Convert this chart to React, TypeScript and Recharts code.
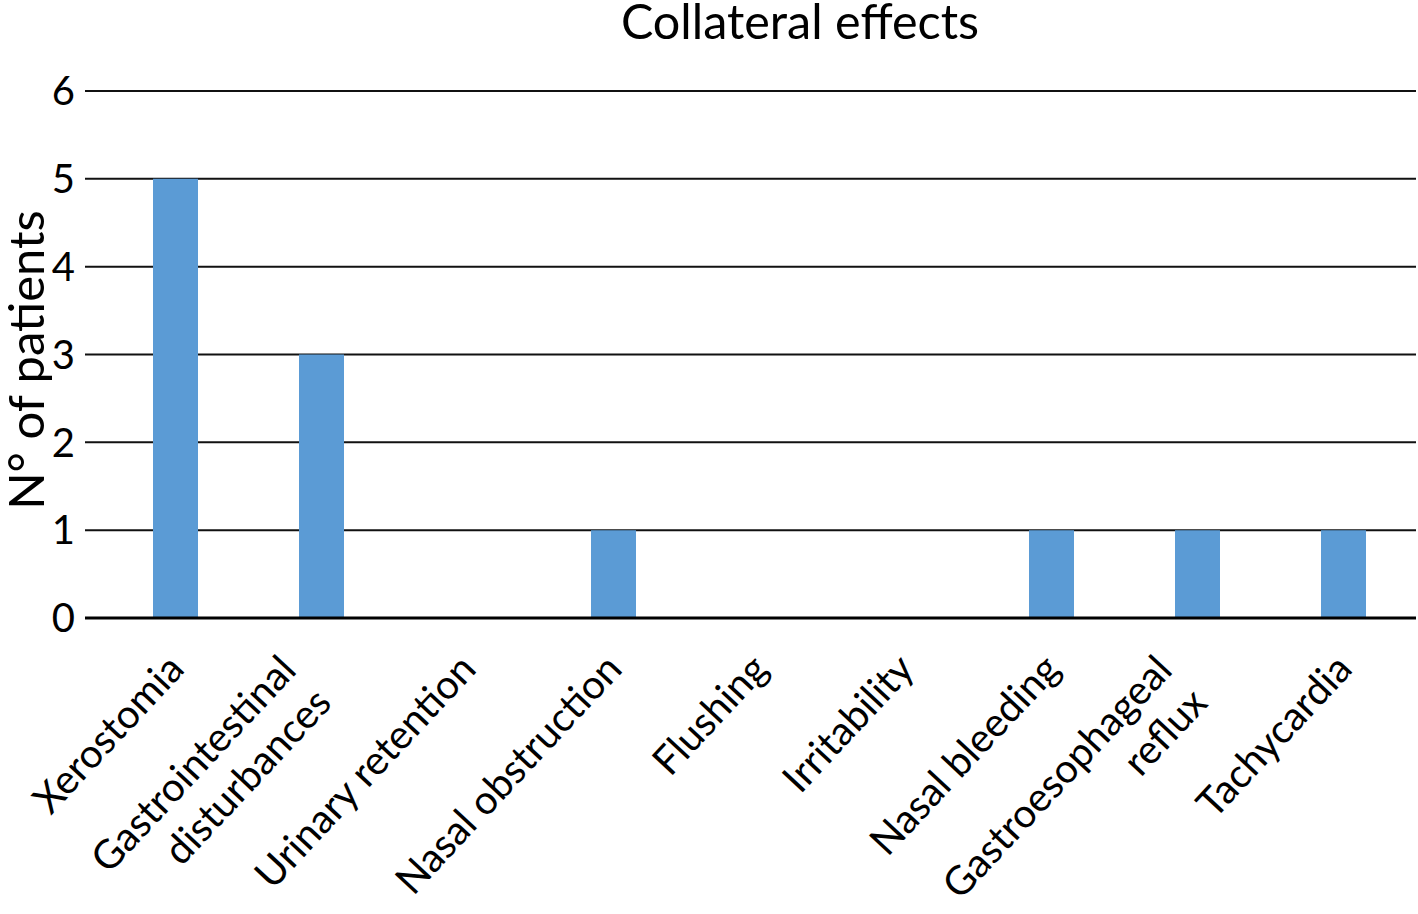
import { BarChart, Bar, XAxis, YAxis, CartesianGrid } from "recharts";

const categories = [
  "Xerostomia",
  "Gastrointestinal\ndisturbances",
  "Urinary retention",
  "Nasal obstruction",
  "Flushing",
  "Irritability",
  "Nasal bleeding",
  "Gastroesophageal\nreflux",
  "Tachycardia",
];
const patients = [5, 3, 0, 1, 0, 0, 1, 1, 1];
const yTicks = [0, 1, 2, 3, 4, 5, 6];

const data = categories.map((name, i) => ({ name, value: patients[i] }));

const FONT = "Lato, 'Open Sans', sans-serif";
const LABEL_SIZE = 40;
const LINE_H = 48;

// rotated category labels, lines right-aligned, block centred on the tick
function SlantedTick(props: any) {
  const { x, y, payload } = props;
  const lines = String(payload.value).split("\n");
  const n = lines.length;
  const dx = -((n - 1) * LINE_H) / 2 - 31;
  return (
    <g transform={`translate(${x},${y}) rotate(-47)`}>
      {lines.map((line, i) => (
        <text
          key={i}
          x={dx}
          y={(i - (n - 1) / 2) * LINE_H + 44}
          textAnchor="end"
          fontFamily={FONT}
          fontSize={LABEL_SIZE}
          fill="#000"
        >
          {line}
        </text>
      ))}
    </g>
  );
}

export default function App() {
  return (
    <div style={{ position: "absolute", left: 0, top: 0, width: 1418, height: 914, background: "#fff" }}>
      <div
        style={{
          position: "absolute",
          top: 0,
          left: 0,
          width: 1600,
          textAlign: "center",
          fontFamily: FONT,
          fontSize: 48.5,
          lineHeight: "40px",
          color: "#000",
        }}
      >
        Collateral effects
      </div>
      <div
        style={{
          position: "absolute",
          left: 25,
          top: 360,
          transform: "translate(-50%, -50%) rotate(-90deg)",
          whiteSpace: "nowrap",
          fontFamily: FONT,
          fontSize: 49,
          lineHeight: "46px",
          color: "#000",
        }}
      >
        N° of patients
      </div>
      <div style={{ position: "absolute", left: 0, top: 0 }}>
        <BarChart
          width={1418}
          height={914}
          data={data}
          margin={{ top: 91, right: 2, left: 0, bottom: 0 }}
        >
          <CartesianGrid vertical={false} stroke="#111" strokeWidth={2} />
          <XAxis
            dataKey="name"
            interval={0}
            height={296}
            padding={{ left: 17, right: 0 }}
            tickLine={false}
            tickSize={0}
            tickMargin={0}
            axisLine={{ stroke: "#000", strokeWidth: 3 }}
            tick={<SlantedTick />}
          />
          <YAxis
            width={85}
            domain={[0, 6]}
            ticks={yTicks}
            interval={0}
            axisLine={false}
            tickLine={false}
            tickSize={10}
            tickMargin={0}
            tick={{ fontFamily: FONT, fontSize: 40, fill: "#000" }}
          />
          <Bar dataKey="value" fill="#5B9BD5" barSize={45} isAnimationActive={false} />
        </BarChart>
      </div>
    </div>
  );
}
